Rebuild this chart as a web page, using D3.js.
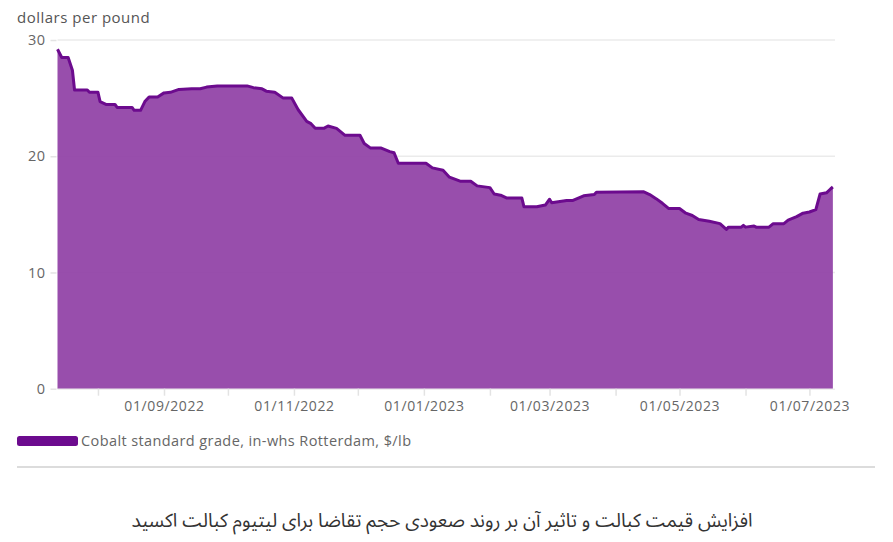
<!DOCTYPE html>
<html>
<head>
<meta charset="utf-8">
<script src="https://d3js.org/d3.v7.min.js"></script>
<style>
	html, body { margin: 0; padding: 0; background: #fff; }
	svg { display: block; }
</style>
</head>
<body>
<div id="chart"></div>
<script>
// price points (date, $/lb)
const dates = [
	'2022-07-13','2022-07-15','2022-07-18','2022-07-20','2022-07-21','2022-07-27','2022-07-28','2022-08-01',
	'2022-08-02','2022-08-05','2022-08-09','2022-08-10','2022-08-17','2022-08-18','2022-08-21','2022-08-23',
	'2022-08-25','2022-08-29','2022-09-01','2022-09-04','2022-09-08','2022-09-14','2022-09-18','2022-09-21',
	'2022-09-26','2022-10-10','2022-10-13','2022-10-17','2022-10-19','2022-10-23','2022-10-27','2022-10-31',
	'2022-11-03','2022-11-07','2022-11-09','2022-11-11','2022-11-15','2022-11-17','2022-11-21','2022-11-25',
	'2022-12-02','2022-12-04','2022-12-07','2022-12-12','2022-12-16','2022-12-18','2022-12-20','2023-01-02',
	'2023-01-05','2023-01-10','2023-01-13','2023-01-18','2023-01-23','2023-01-26','2023-02-01','2023-02-03',
	'2023-02-06','2023-02-09','2023-02-16','2023-02-17','2023-02-23','2023-02-27','2023-03-01','2023-03-02',
	'2023-03-09','2023-03-12','2023-03-17','2023-03-22','2023-03-23','2023-04-14','2023-04-17','2023-04-20',
	'2023-04-23','2023-04-26','2023-05-01','2023-05-04','2023-05-07','2023-05-10','2023-05-15','2023-05-20',
	'2023-05-23','2023-05-24','2023-05-30','2023-05-31','2023-06-01','2023-06-05','2023-06-06','2023-06-12',
	'2023-06-14','2023-06-19','2023-06-21','2023-06-25','2023-06-28','2023-07-01','2023-07-04','2023-07-06',
	'2023-07-09','2023-07-11','2023-07-12'
];
const prices = [
	29.2, 28.5, 28.5, 27.4, 25.7, 25.7, 25.5, 25.5,
	24.7, 24.45, 24.45, 24.2, 24.2, 23.95, 23.95, 24.7,
	25.1, 25.1, 25.45, 25.5, 25.75, 25.8, 25.8, 25.95,
	26.05, 26.05, 25.9, 25.8, 25.6, 25.5, 25.0, 25.0,
	24.0, 23.0, 22.8, 22.4, 22.4, 22.6, 22.4, 21.8,
	21.8, 21.1, 20.7, 20.7, 20.4, 20.3, 19.4, 19.4,
	19.0, 18.8, 18.2, 17.85, 17.85, 17.45, 17.3, 16.75,
	16.65, 16.4, 16.4, 15.65, 15.65, 15.8, 16.3, 16.0,
	16.2, 16.2, 16.6, 16.7, 16.9, 16.95, 16.7, 16.35,
	15.95, 15.5, 15.5, 15.1, 14.9, 14.55, 14.4, 14.2,
	13.7, 13.9, 13.9, 14.05, 13.9, 14.0, 13.9, 13.9,
	14.2, 14.2, 14.5, 14.8, 15.1, 15.2, 15.4, 16.75,
	16.85, 17.2, 17.35
];
const yTicks = [0, 10, 20, 30];
const xDomain = ['2022-07-13', '2023-07-13'];
const yTitle = 'dollars per pound';
const seriesName = 'Cobalt standard grade, in-whs Rotterdam, $/lb';
const caption = 'افزایش قیمت کبالت و تاثیر آن بر روند صعودی حجم تقاضا برای لیتیوم کبالت اکسید';

const width = 893, height = 542;
const margin = { left: 57.5, right: 58, top: 40, bottom: 153 };
const font = '"Open Sans", "Noto Sans", sans-serif';

const parse = d3.timeParse('%Y-%m-%d');
const data = dates.map((d, i) => ({ date: parse(d), value: prices[i] }));

const svg = d3.select('#chart').append('svg')
	.attr('width', width)
	.attr('height', height);

const x = d3.scaleTime()
	.domain(xDomain.map(parse))
	.range([margin.left, width - margin.right]);

const y = d3.scaleLinear()
	.domain([0, 30])
	.range([height - margin.bottom - 0.3, margin.top]);

// gridlines
svg.append('g')
	.selectAll('line')
	.data(yTicks.filter(d => d > 0))
	.join('line')
	.attr('x1', margin.left)
	.attr('x2', width - margin.right)
	.attr('y1', d => y(d))
	.attr('y2', d => y(d))
	.attr('stroke', '#ebebeb')
	.attr('stroke-width', 1.5);

// y axis (labels + short ticks, no domain line)
const yAxis = svg.append('g')
	.attr('transform', `translate(${margin.left},0)`)
	.call(d3.axisLeft(y).tickValues(yTicks).tickSize(7).tickPadding(5));
yAxis.select('.domain').remove();
yAxis.selectAll('.tick line').attr('stroke', '#e3e3e3').attr('stroke-width', 1.5).attr('x2', -7).attr('x1', -1);
yAxis.selectAll('text')
	.attr('fill', '#666')
	.style('font-family', font)
	.style('font-size', '14.5px')
	.style('letter-spacing', '0.5px');

// area + line
const area = d3.area()
	.x(d => x(d.date))
	.y0(y(0))
	.y1(d => y(d.value));

const line = d3.line()
	.x(d => x(d.date))
	.y(d => y(d.value));

svg.append('path')
	.datum(data)
	.attr('d', area)
	.attr('fill', '#8f3fa5')
	.attr('fill-opacity', 0.92);

svg.append('path')
	.datum(data)
	.attr('d', line)
	.attr('fill', 'none')
	.attr('stroke', '#6c0b8e')
	.attr('stroke-width', 3)
	.attr('stroke-linejoin', 'round');

// x axis: a tick every month, a label every second month
const xAxis = svg.append('g')
	.attr('transform', `translate(0,${y(0)})`)
	.call(d3.axisBottom(x)
		.ticks(d3.timeMonth.every(1))
		.tickSize(7)
		.tickPadding(5)
		.tickFormat(d => d.getMonth() % 2 === 0 ? d3.timeFormat('%d/%m/%Y')(d) : ''));
xAxis.select('.domain').attr('stroke', '#e6e6e6').attr('stroke-width', 1).attr('d', `M${margin.left},0.5H${width - margin.right}`);
xAxis.selectAll('.tick line').attr('stroke', '#e3e3e3').attr('stroke-width', 1.5);
xAxis.selectAll('text')
	.attr('fill', '#666')
	.style('font-family', font)
	.style('font-size', '14px')
	.style('letter-spacing', '0.6px');

// y title
svg.append('text')
	.attr('x', 17)
	.attr('y', 23)
	.attr('fill', '#555')
	.style('font-family', font)
	.style('font-size', '15px')
	.style('letter-spacing', '0.5px')
	.text(yTitle);

// legend
svg.append('rect')
	.attr('x', 17)
	.attr('y', 436)
	.attr('width', 61)
	.attr('height', 10)
	.attr('rx', 2.5)
	.attr('fill', '#6c0b8e');

svg.append('text')
	.attr('x', 81)
	.attr('y', 446)
	.attr('fill', '#666')
	.style('font-family', font)
	.style('font-size', '14.5px')
	.style('letter-spacing', '0.4px')
	.text(seriesName);

// separator
svg.append('line')
	.attr('x1', 17)
	.attr('x2', 875)
	.attr('y1', 467)
	.attr('y2', 467)
	.attr('stroke', '#dcdcdc')
	.attr('stroke-width', 2);

// caption
svg.append('text')
	.attr('x', 442)
	.attr('y', 527)
	.attr('text-anchor', 'middle')
	.attr('direction', 'rtl')
	.attr('fill', '#333')
	.style('font-family', '"Noto Sans Arabic", "DejaVu Sans", sans-serif')
	.style('font-size', '19px')
	.text(caption);
</script>
</body>
</html>
